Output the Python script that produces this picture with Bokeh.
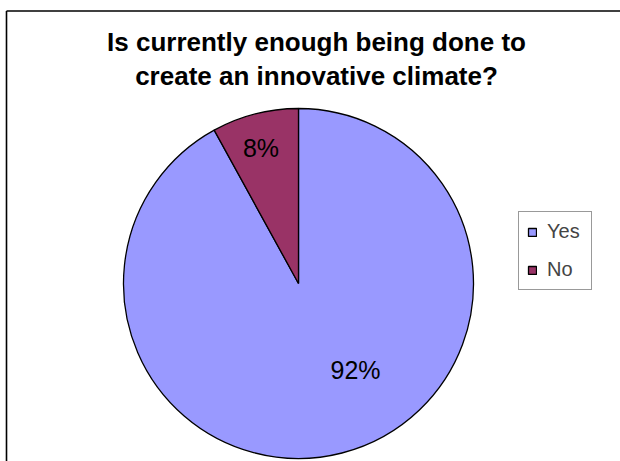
import math
from bokeh.plotting import figure
from bokeh.models import Range1d, Label, Legend, LegendItem
from bokeh.embed import file_html
from bokeh.resources import INLINE

title_lines = ["Is currently enough being done to", "create an innovative climate?"]
categories = ["Yes", "No"]
values = [92, 8]
colors = ["#9999FF", "#993366"]

W, H = 620, 461
p = figure(width=W, height=H, output_backend="svg", toolbar_location=None,
           x_range=Range1d(0, W), y_range=Range1d(0, H), min_border=0,
           outline_line_color=None)
p.axis.visible = False
p.grid.visible = False
p.background_fill_color = "white"
p.border_fill_color = "white"

# chart frame (only top and left edges are visible in the reference)
p.multi_line(xs=[[6, W + 5], [6, 6]], ys=[[H - 10.5, H - 10.5], [H - 10.5, -5]],
             line_color="#000000", line_width=1.6)

# pie geometry (pixel layout)
cx, cy, R = 298, H - 283, 175
total = sum(values)
# No slice starts at 12 o'clock going counter-clockwise, Yes fills the rest
order = [1, 0]
start = math.pi / 2
starts, ends = {}, {}
for i in order:
    a = 2 * math.pi * values[i] / total
    starts[i] = start
    ends[i] = start + a
    start += a

renderers = []
for i in range(2):
    r = p.wedge(x=cx, y=cy, radius=R, start_angle=starts[i], end_angle=ends[i],
                fill_color=colors[i], line_color="black", line_width=1.3)
    renderers.append(r)

# percentage labels
label_pos = {1: (260.5, H - 147.5), 0: (355, H - 369)}
for i in range(2):
    pct = round(100 * values[i] / total)
    lx, ly = label_pos[i]
    p.add_layout(Label(x=lx, y=ly, text=f"{pct}%", text_align="center",
                       text_baseline="middle", text_font="Liberation Sans",
                       text_font_size="25px", text_color="black"))

# title
for t, ym in zip(title_lines, [41, 75]):
    p.add_layout(Label(x=316, y=H - ym, text=t, text_align="center",
                       text_baseline="middle", text_font="Liberation Sans",
                       text_font_style="bold", text_font_size="26px",
                       text_color="black"))

legend = Legend(items=[LegendItem(label=categories[i], renderers=[renderers[i]]) for i in range(2)],
                location=(518, H - 290), orientation="vertical",
                label_text_font="Liberation Sans", label_text_font_size="20px",
                glyph_width=10, glyph_height=10, label_height=20, spacing=15,
                padding=8, margin=0, label_standoff=10, label_width=36,
                border_line_color="#333333", border_line_width=1,
                background_fill_color="white", background_fill_alpha=1)
p.add_layout(legend, "center")

open("out.html", "w").write(file_html(p, INLINE))
